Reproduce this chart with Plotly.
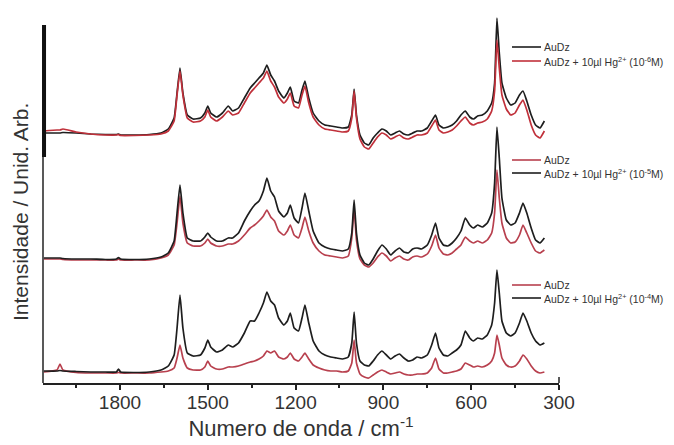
import plotly.graph_objects as go

# Wavenumber grid (cm-1), shared by all spectra
wn = [2060, 2015, 2005, 1995, 1950, 1900, 1850, 1812, 1805, 1798,
      1750, 1700, 1660, 1635, 1615, 1605, 1595, 1585, 1570, 1550,
      1525, 1510, 1500, 1490, 1470, 1450, 1430, 1415, 1395, 1375,
      1355, 1340, 1325, 1310, 1298, 1285, 1272, 1258, 1240, 1228,
      1218, 1205, 1190, 1178, 1168, 1155, 1140, 1120, 1100, 1080,
      1060, 1040, 1020, 1008, 1000, 992, 980, 965, 950, 935,
      920, 905, 890, 875, 860, 845, 830, 815, 800, 785,
      770, 750, 735, 722, 710, 695, 680, 665, 650, 635,
      620, 605, 592, 578, 562, 545, 530, 520, 512, 504,
      495, 480, 465, 450, 435, 423, 410, 395, 380, 365, 350]

# Bottom group (offset spectra, arbitrary units)
bot_hg = [12, 12, 12.5, 12, 11.5, 11, 11, 11, 14, 11,
          10.5, 11, 13, 17, 28, 55, 88, 55, 30, 27,
          28, 35, 43, 36, 31, 33, 38, 36, 40, 50,
          62, 62, 70, 80, 91, 82, 78, 65, 58, 62,
          70, 55, 52, 65, 78, 60, 42, 32, 28, 26,
          25, 24, 26, 40, 71, 40, 22, 18, 17, 22,
          28, 32, 28, 24, 27, 29, 25, 22, 23, 26,
          25, 28, 38, 50, 35, 28, 27, 30, 33, 38,
          52, 45, 42, 45, 44, 48, 58, 80, 113, 90,
          62, 50, 47, 50, 60, 70, 62, 50, 42, 38, 40]
bot_au = [11, 13, 19, 13, 10.5, 10, 10, 10, 10.5, 10,
          10, 10, 11, 12, 15, 25, 38, 25, 15, 13,
          13, 16, 22, 17, 14, 14, 16, 16, 17, 19,
          21, 22, 24, 27, 32, 30, 32, 26, 24, 26,
          30, 24, 22, 26, 30, 24, 18, 15, 13, 12,
          12, 11, 12, 20, 43, 20, 9, 6, 5, 8,
          11, 13, 11, 9, 10, 11, 9, 8, 8, 9,
          9, 10, 15, 25, 14, 10, 10, 11, 12, 14,
          20, 18, 16, 17, 16, 18, 22, 30, 48, 38,
          25, 18, 16, 17, 22, 28, 24, 17, 12, 10, 11]

# Middle group
mid_hg = [125, 125, 125, 124.5, 124, 124, 123.5, 124, 125.5, 124,
          123.5, 124, 126, 130, 142, 170, 198, 170, 145, 142,
          142, 146, 150, 146, 142, 142, 145, 145, 150, 162,
          172, 178, 182, 192, 205, 192, 186, 172, 166, 170,
          178, 165, 160, 175, 190, 172, 152, 140, 136, 134,
          133, 132, 134, 150, 183, 150, 128, 120, 118, 124,
          132, 138, 134, 128, 132, 135, 131, 130, 134, 135,
          134, 138, 148, 160, 145, 138, 137, 140, 145, 152,
          165, 158, 155, 158, 156, 160, 170, 200, 256, 225,
          185, 163, 158, 160, 170, 180, 170, 155, 143, 140, 145]
mid_au = [124, 124, 124, 123.5, 123, 123, 123, 123, 124, 123,
          123, 123, 125, 128, 138, 160, 187, 160, 140, 137,
          137, 140, 144, 140, 137, 137, 139, 139, 142, 148,
          155, 158, 162, 167, 173, 166, 162, 152, 148, 152,
          158, 148, 145, 155, 166, 152, 140, 132, 128, 127,
          126, 125, 127, 145, 175, 143, 124, 118, 116, 120,
          126, 130, 127, 122, 125, 127, 124, 123, 126, 127,
          126, 129, 137, 148, 135, 129, 128, 130, 134, 138,
          146, 142, 140, 142, 140, 143, 150, 170, 213, 185,
          160, 145, 140, 141, 148, 158, 150, 140, 132, 130, 133]

# Top group
top_au = [250, 250, 250, 250.5, 250, 249, 248.5, 248.5, 249, 248,
          248, 248.5, 250, 254, 265, 290, 315, 290, 268, 264,
          265, 270, 277, 270, 266, 270, 277, 272, 275, 285,
          295, 300, 305, 310, 318, 308, 302, 292, 285, 290,
          296, 282, 280, 293, 302, 285, 270, 262, 258, 257,
          256, 255, 256, 268, 294, 268, 248, 240, 238, 245,
          250, 254, 252, 248, 250, 252, 249, 248, 250, 252,
          252, 255, 262, 268, 258, 255, 256, 258, 262, 268,
          272, 266, 264, 267, 268, 272, 280, 300, 365, 330,
          300, 285, 278, 280, 288, 292, 282, 268, 258, 255, 262]
top_hg = [252, 253, 253, 254, 251, 249, 248, 248, 248.5, 247.5,
          247.5, 248, 249, 252, 262, 288, 312, 288, 265, 261,
          262, 266, 273, 266, 262, 266, 272, 268, 270, 280,
          290, 295, 300, 305, 312, 302, 296, 286, 280, 284,
          290, 277, 275, 288, 297, 280, 266, 258, 254, 253,
          252, 251, 252, 265, 292, 265, 244, 236, 234, 240,
          246, 250, 248, 244, 246, 248, 245, 244, 246, 248,
          248, 250, 257, 263, 253, 250, 251, 253, 257, 262,
          266, 260, 258, 260, 261, 264, 272, 292, 343, 315,
          288, 274, 268, 270, 278, 283, 273, 258, 248, 245, 252]

x_ticks = [1800, 1500, 1200, 900, 600, 300]
lbl_au = "AuDz"
lbl_hg = ["AuDz + 10µl Hg<sup>2+</sup> (10<sup>-6</sup>M)",
          "AuDz + 10µl Hg<sup>2+</sup> (10<sup>-5</sup>M)",
          "AuDz + 10µl Hg<sup>2+</sup> (10<sup>-4</sup>M)"]

BLACK = "#1e1e1e"
RED = "#b8404e"
RED_TOP = "#c0303a"
FONT = "Liberation Sans, Arial, sans-serif"

W, H = 674, 445
ML, MR, MT, MB = 43, 115, 15, 62
PW, PH = W - ML - MR, H - MT - MB


def px(x):
    return (x - ML) / PW


def py(y):
    return (H - MB - y) / PH


fig = go.Figure()
series = [
    (top_au, BLACK), (top_hg, RED_TOP),
    (mid_au, RED), (mid_hg, BLACK),
    (bot_au, RED), (bot_hg, BLACK),
]
for ys, col in series:
    fig.add_trace(go.Scatter(x=wn, y=ys, mode="lines",
                             line=dict(color=col, width=1.7, shape="spline", smoothing=0.4),
                             showlegend=False, hoverinfo="skip"))

shapes = []
annotations = []
# y axis line and thick top bar
shapes.append(dict(type="line", xref="paper", yref="paper", x0=0, x1=0,
                   y0=0, y1=py(25), line=dict(color="#222", width=1.5)))
shapes.append(dict(type="line", xref="paper", yref="paper", x0=0.002, x1=0.002,
                   y0=py(157), y1=py(25), line=dict(color="#111", width=4)))
# right end of x axis
shapes.append(dict(type="line", xref="paper", yref="paper", x0=1, x1=1,
                   y0=0, y1=py(377), line=dict(color="#222", width=1.5)))

legends = [
    [(47, BLACK, lbl_au), (61, RED_TOP, lbl_hg[0])],
    [(160, RED, lbl_au), (173, BLACK, lbl_hg[1])],
    [(285, RED, lbl_au), (298, BLACK, lbl_hg[2])],
]
for grp in legends:
    for ypix, col, txt in grp:
        shapes.append(dict(type="line", xref="paper", yref="paper",
                           x0=px(512), x1=px(541), y0=py(ypix), y1=py(ypix),
                           line=dict(color=col, width=1.6)))
        annotations.append(dict(text=txt, xref="paper", yref="paper",
                                x=px(542), y=py(ypix), xanchor="left", yanchor="middle",
                                showarrow=False,
                                font=dict(size=10.5, color="#333", family=FONT)))

annotations.append(dict(text="Intensidade / Unid. Arb.", xref="paper", yref="paper",
                        x=px(20), y=py(212), textangle=-90, showarrow=False,
                        xanchor="center", yanchor="middle",
                        font=dict(size=21, color="#333", family=FONT)))

fig.update_layout(
    width=W, height=H,
    margin=dict(l=ML, r=MR, t=MT, b=MB, autoexpand=False),
    paper_bgcolor="white", plot_bgcolor="white",
    shapes=shapes, annotations=annotations,
    xaxis=dict(range=[2063, 300], tickvals=x_ticks, automargin=False,
               ticks="outside", ticklen=5, tickwidth=1.5, tickcolor="#222",
               ticklabelstandoff=-4,
               minor=dict(dtick=150, tick0=300, ticks="outside", ticklen=3,
                          tickwidth=1.5, tickcolor="#222"),
               showline=True, linecolor="#222", linewidth=1.5,
               showgrid=False, zeroline=False,
               tickfont=dict(size=19, color="#333", family=FONT),
               title=dict(text="Numero de onda / cm<sup>-1</sup>", standoff=6,
                          font=dict(size=22, color="#333", family=FONT))),
    yaxis=dict(range=[0, PH], showticklabels=False, ticks="", showgrid=False,
               zeroline=False, showline=False, automargin=False),
)

fig.write_html("out.html", config={"displayModeBar": False},
               post_script="document.body.style.margin='0';document.body.style.overflow='hidden';")
